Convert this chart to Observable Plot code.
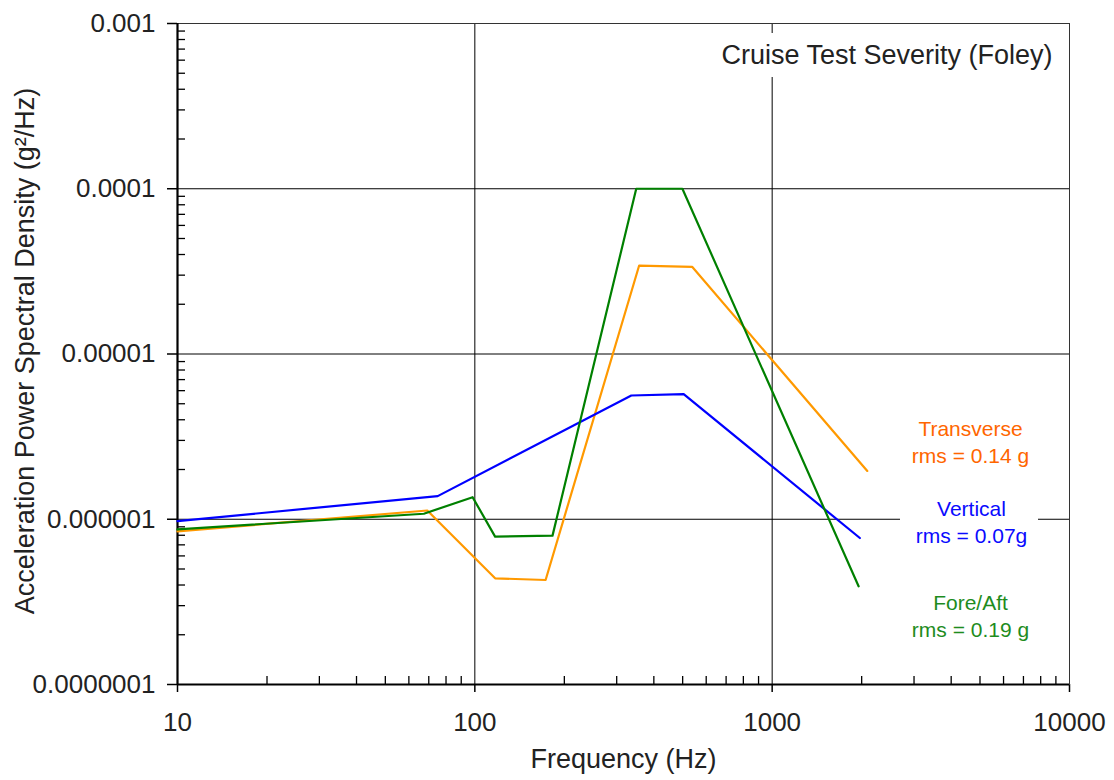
<!DOCTYPE html>
<html><head><meta charset="utf-8">
<script src="https://cdn.jsdelivr.net/npm/d3@7"></script>
<script src="https://cdn.jsdelivr.net/npm/@observablehq/plot@0.6"></script>
<style>body{margin:0;background:#fff} svg{display:block}</style>
</head><body><div id="chart"></div>
<script>
// ---- data ----
const transverseFreq = [10, 69.2, 117, 173, 357, 538, 2089];
const transversePSD  = [8.45e-7, 1.13e-6, 4.39e-7, 4.29e-7, 3.43e-5, 3.37e-5, 1.96e-6];
const verticalFreq   = [10, 75, 336, 504, 1972];
const verticalPSD    = [9.75e-7, 1.38e-6, 5.61e-6, 5.71e-6, 7.7e-7];
const foreAftFreq    = [10, 67.4, 98.3, 117, 182.5, 349, 499, 1953];
const foreAftPSD     = [8.69e-7, 1.08e-6, 1.36e-6, 7.85e-7, 7.96e-7, 1.0e-4, 1.0e-4, 3.93e-7];

const xMajorTicks = [10, 100, 1000, 10000];
const yMajorTicks = [1e-7, 1e-6, 1e-5, 1e-4, 1e-3];
const minorMultipliers = [2, 3, 4, 5, 6, 7, 8, 9];
const xDecades = [10, 100, 1000];
const yDecades = [1e-7, 1e-6, 1e-5, 1e-4];

const titleText = "Cruise Test Severity (Foley)";
const xLabel = "Frequency (Hz)";
const yLabel = "Acceleration Power Spectral Density (g²/Hz)";
const seriesLabels = ["Transverse\nrms = 0.14 g", "Vertical\nrms = 0.07g", "Fore/Aft\nrms = 0.19 g"];

// ---- build tables ----
const toRows = (F, P) => F.map((f, i) => ({f, psd: P[i]}));
const transverse = toRows(transverseFreq, transversePSD);
const vertical = toRows(verticalFreq, verticalPSD);
const foreAft = toRows(foreAftFreq, foreAftPSD);
const xMinorTicks = xDecades.flatMap(d => minorMultipliers.map(m => d * m));
const yMinorTicks = yDecades.flatMap(d => minorMultipliers.map(m => d * m));

const W = 1114, H = 780, ML = 177, MR = 45, MT = 23, MB = 96;
const PW = W - ML - MR, PH = H - MT - MB;
const FONT = "'Liberation Sans', Arial, Helvetica, sans-serif";

const chart = Plot.plot({
  width: W, height: H,
  marginLeft: ML, marginRight: MR, marginTop: MT, marginBottom: MB,
  x: {type: "log", domain: [10, 10000]},
  y: {type: "log", domain: [1e-7, 1e-3]},
  style: {fontFamily: FONT, color: "#222", background: "white"},
  marks: [
    // grid
    Plot.ruleX(xMajorTicks, {stroke: "black", strokeWidth: 1}),
    Plot.ruleY(yMajorTicks, {stroke: "black", strokeWidth: 1}),
    // gaps behind the labels' white boxes
    Plot.ruleX([1000], {stroke: "white", strokeWidth: 4, insetTop: 10, insetBottom: PH - 54}),
    Plot.ruleY([1e-6], {stroke: "white", strokeWidth: 4, insetLeft: 723, insetRight: 31}),
    // minor ticks (inward)
    Plot.ruleX(xMinorTicks, {stroke: "black", strokeWidth: 1.3, insetTop: PH - 8}),
    Plot.ruleY(yMinorTicks, {stroke: "black", strokeWidth: 1.3, insetRight: PW - 8}),
    // major ticks (outward)
    Plot.ruleX(xMajorTicks, {stroke: "black", strokeWidth: 1.5, insetTop: PH, insetBottom: -8}),
    Plot.ruleY(yMajorTicks, {stroke: "black", strokeWidth: 1.5, insetLeft: -10, insetRight: PW}),
    // frame and axis lines
    Plot.frame({stroke: "#333", strokeWidth: 1}),
    Plot.ruleX([10], {stroke: "black", strokeWidth: 2.2}),
    Plot.ruleY([1e-7], {stroke: "black", strokeWidth: 2.2}),
    // tick labels
    Plot.axisX(xMajorTicks, {tickSize: 0, tickPadding: 28, tickFormat: d => String(d), fontSize: 26, label: null}),
    Plot.axisY(yMajorTicks, {tickSize: 0, tickPadding: 22, tickFormat: d => d.toFixed(Math.round(-Math.log10(d))), fontSize: 26, label: null}),
    // data
    Plot.line(transverse, {x: "f", y: "psd", stroke: "#ff9900", strokeWidth: 2.2}),
    Plot.line(vertical, {x: "f", y: "psd", stroke: "#0000ff", strokeWidth: 2.2}),
    Plot.line(foreAft, {x: "f", y: "psd", stroke: "#008000", strokeWidth: 2.2}),
    // title and axis titles
    Plot.text([titleText], {text: d => d, frameAnchor: "top-right", textAnchor: "end", lineAnchor: "bottom", dx: -17, dy: 40, fontSize: 27, fill: "#222"}),
    Plot.text([xLabel], {text: d => d, frameAnchor: "bottom", textAnchor: "middle", lineAnchor: "bottom", dy: 83, fontSize: 27, fill: "#222"}),
    Plot.text([yLabel], {text: d => d, frameAnchor: "left", textAnchor: "middle", rotate: -90, lineAnchor: "bottom", dx: -144, dy: -3, fontSize: 27, fill: "#222"}),
    // series labels
    Plot.text([seriesLabels[0]], {text: d => d, frameAnchor: "right", textAnchor: "middle", lineAnchor: "bottom", lineHeight: 1.3, dx: -99, dy: 109, fontSize: 21, fill: "#ff6600"}),
    Plot.text([seriesLabels[1]], {text: d => d, frameAnchor: "right", textAnchor: "middle", lineAnchor: "bottom", lineHeight: 1.3, dx: -98, dy: 189, fontSize: 21, fill: "#0a0aff"}),
    Plot.text([seriesLabels[2]], {text: d => d, frameAnchor: "right", textAnchor: "middle", lineAnchor: "bottom", lineHeight: 1.3, dx: -99, dy: 283, fontSize: 21, fill: "#1e8c1e"})
  ]
});
document.getElementById("chart").appendChild(chart);
</script>
</body></html>
